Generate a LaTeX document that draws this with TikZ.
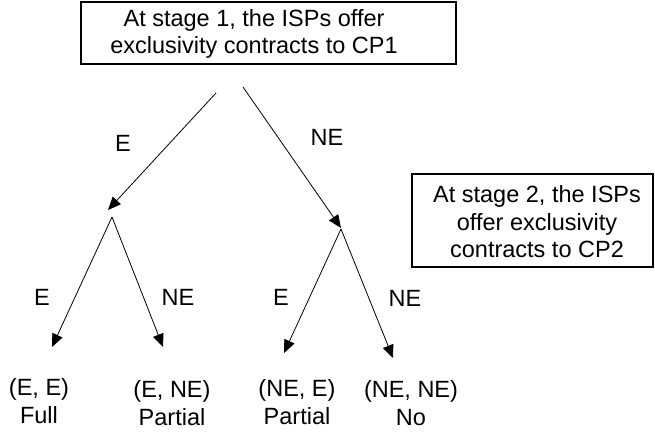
\documentclass[tikz,border=0pt]{standalone}
\usepackage{fontspec}
\setmainfont{Liberation Sans}
\usetikzlibrary{arrows.meta}
\begin{document}
\begin{tikzpicture}[x=1pt,y=-1pt,
  txt/.style={font=\fontsize{23.5}{27.5}\selectfont, align=center, inner sep=0pt},
  boxst/.style={draw, line width=1.1pt, inner sep=0pt},
  edge/.style={line width=0.8pt, -{Triangle[length=13pt,width=11pt]}}]
\useasboundingbox (0,0) rectangle (655,433);
% boxes
\node[boxst, minimum width=375pt, minimum height=62pt] (box1) at (268.5,33) {};
\node[txt] (t1) at (254,34) {At stage 1, the ISPs offer\\exclusivity contracts to CP1};
\node[boxst, minimum width=241pt, minimum height=93pt] (box2) at (532.5,220.5) {};
\node[txt] (t2) at (537,222) {At stage 2, the ISPs\\offer exclusivity\\contracts to CP2};
% tree points
\coordinate (rl) at (216,93);
\coordinate (rr) at (243,87);
\coordinate (Lin) at (108,210);
\coordinate (L) at (112,217);
\coordinate (Rin) at (341,228);
\coordinate (R) at (341,229);
\coordinate (LL) at (52,347);
\coordinate (LR) at (163,347);
\coordinate (RL) at (284,353);
\coordinate (RR) at (393,358);
\draw[edge] (rl) -- (Lin);
\draw[edge] (rr) -- (Rin);
\draw[edge] (L) -- (LL);
\draw[edge] (L) -- (LR);
\draw[edge] (R) -- (RL);
\draw[edge] (R) -- (RR);
% branch labels
\node[txt] (e1) at (123,143) {E};
\node[txt] (ne1) at (327,137) {NE};
\node[txt] (e2) at (42,297) {E};
\node[txt] (ne2) at (178,297) {NE};
\node[txt] (e3) at (281,297) {E};
\node[txt] (ne3) at (405,298) {NE};
% leaves
\node[txt] (l1) at (39,401) {(E, E)\\Full};
\node[txt] (l2) at (172,403) {(E, NE)\\Partial};
\node[txt] (l3) at (297,402) {(NE, E)\\Partial};
\node[txt] (l4) at (411,403) {(NE, NE)\\No};
\end{tikzpicture}
\end{document}
